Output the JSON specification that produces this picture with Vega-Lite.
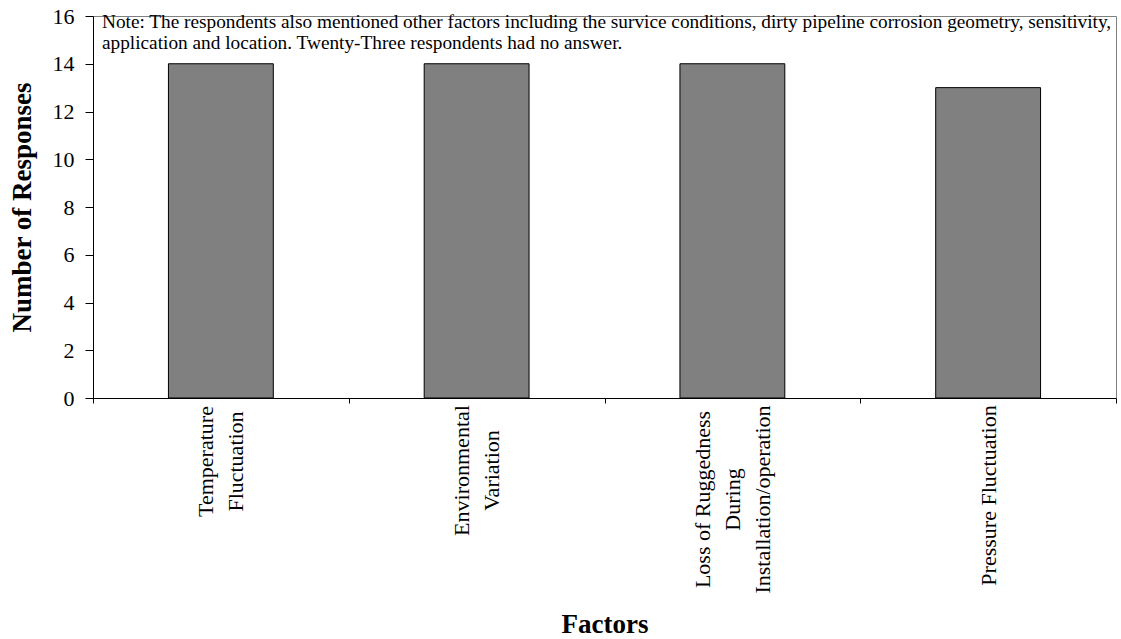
{
  "$schema": "https://vega.github.io/schema/vega-lite/v6.json",
  "width": 1023,
  "height": 382,
  "autosize": "none",
  "padding": {"left": 93, "top": 16, "right": 5, "bottom": 241},
  "background": "white",
  "config": {
    "font": "Liberation Serif",
    "view": {"stroke": "#808080", "strokeWidth": 1},
    "style": {
      "guide-label": {
        "dy": {"signal": "datum.value == 'Temperature Fluctuation' || datum.value == 'Environmental Variation' ? -15 : datum.value == 'Loss of Ruggedness During Installation/operation' ? -30 : 0"},
        "dx": {"signal": "datum.value == 'Temperature Fluctuation' ? -56 : datum.value == 'Environmental Variation' ? -65 : datum.value == 'Loss of Ruggedness During Installation/operation' ? -94 : datum.value == 'Pressure Fluctuation' ? -90 : 0"}
      }
    }
  },
  "layer": [
    {
      "data": {
        "values": [
          {"factor": "Temperature Fluctuation", "responses": 14},
          {"factor": "Environmental Variation", "responses": 14},
          {"factor": "Loss of Ruggedness During Installation/operation", "responses": 14},
          {"factor": "Pressure Fluctuation", "responses": 13}
        ]
      },
      "mark": {"type": "bar", "fill": "#808080", "stroke": "#000000", "strokeWidth": 1, "width": {"band": 0.41}},
      "encoding": {
        "x": {
          "field": "factor",
          "type": "nominal",
          "sort": null,
          "scale": {"paddingInner": 0, "paddingOuter": 0},
          "axis": {
            "title": "Factors",
            "titleFontSize": 27,
            "titleFontWeight": "bold",
            "titleColor": "black",
            "titlePadding": 18,
            "labelAngle": 270,
            "labelAlign": "center",
            "labelBaseline": "middle",
            "labelFontSize": 22,
            "labelLineHeight": 30,
            "labelPadding": 2,
            "labelColor": "black",
            "labelLimit": 400,
            "tickBand": "extent",
            "tickSize": 5,
            "tickColor": "black",
            "domainColor": "black",
            "labelExpr": "datum.value == 'Temperature Fluctuation' ? ['Temperature', 'Fluctuation'] : datum.value == 'Environmental Variation' ? ['Environmental', 'Variation'] : datum.value == 'Loss of Ruggedness During Installation/operation' ? ['Loss of Ruggedness', 'During', 'Installation/operation'] : datum.label"
          }
        },
        "y": {
          "field": "responses",
          "type": "quantitative",
          "scale": {"domain": [0, 16], "nice": false},
          "axis": {
            "title": "Number of Responses",
            "titleFontSize": 27,
            "titleFontWeight": "bold",
            "titleColor": "black",
            "titlePadding": 16,
            "values": [0, 2, 4, 6, 8, 10, 12, 14, 16],
            "labelFontSize": 22,
            "labelColor": "black",
            "labelPadding": 11,
            "tickSize": 8,
            "tickColor": "black",
            "domainColor": "black",
            "grid": false
          }
        }
      }
    },
    {
      "data": {
        "values": [
          {"note": "Note: The respondents also mentioned other factors including the survice conditions, dirty pipeline corrosion geometry, sensitivity,\napplication and location. Twenty-Three respondents had no answer."}
        ]
      },
      "mark": {"type": "text", "align": "left", "baseline": "alphabetic", "dx": 9, "dy": 12, "fontSize": 19.3, "lineHeight": 21, "lineBreak": "\n", "color": "black"},
      "encoding": {
        "x": {"datum": "Temperature Fluctuation", "type": "nominal", "bandPosition": 0},
        "y": {"datum": 16, "type": "quantitative"},
        "text": {"field": "note"}
      }
    }
  ]
}
